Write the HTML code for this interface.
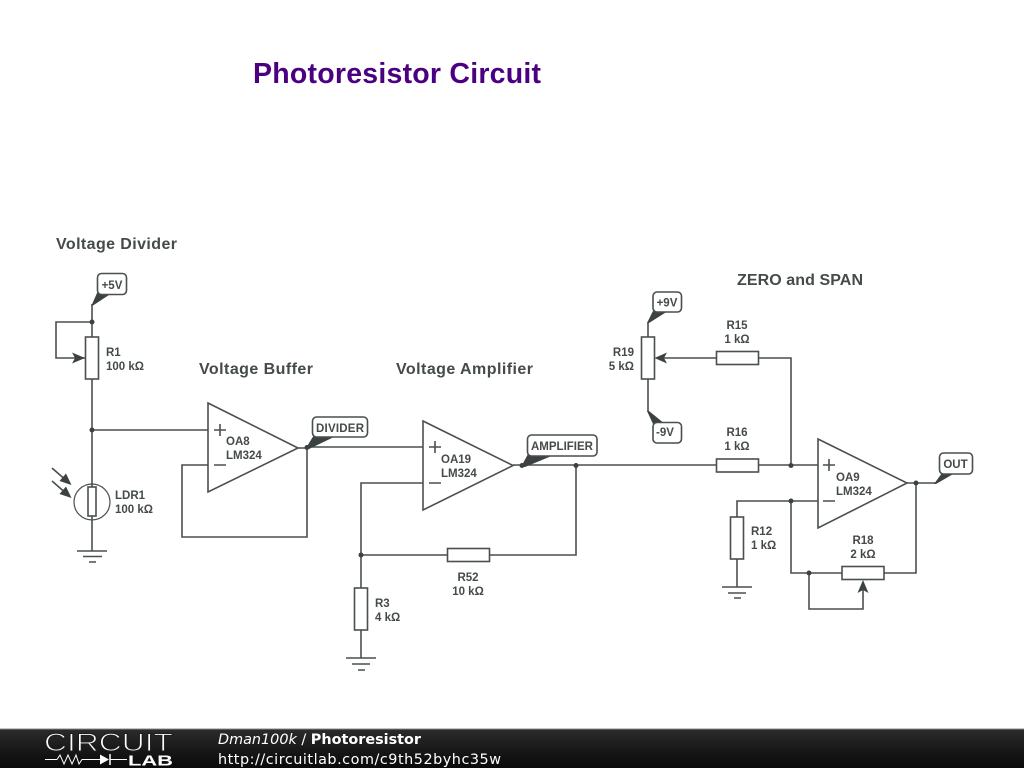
<!DOCTYPE html>
<html><head><meta charset="utf-8"><style>
html,body{margin:0;padding:0;background:#fff}
svg{display:block}
.w{fill:none;stroke:#4a4f4f;stroke-width:1.6}
.b{fill:#fff;stroke:#4a4f4f;stroke-width:1.6}
.t{font:bold 11.5px "Liberation Sans",sans-serif;fill:#454a4a}
.h{font:bold 16px "Liberation Sans",sans-serif;fill:#454a4a}
.l{fill:#fff;stroke:#4a4f4f;stroke-width:1.6}
.f{fill:#3c4242}
.s{fill:#fff;font-family:"DejaVu Sans",sans-serif;font-size:14.4px}
</style></head><body>
<svg width="1024" height="768" viewBox="0 0 1024 768" xmlns="http://www.w3.org/2000/svg">
<rect width="1024" height="768" fill="#fff"/>
<text x="253" y="83" style="font:bold 28.500px 'Liberation Sans',sans-serif;fill:#4b0082" textLength="288">Photoresistor Circuit</text>
<text class="h" x="56" y="249" textLength="121">Voltage Divider</text>
<text class="h" x="199" y="374" textLength="114">Voltage Buffer</text>
<text class="h" x="396" y="374" textLength="137">Voltage Amplifier</text>
<text class="h" x="737" y="285" textLength="126">ZERO and SPAN</text>

<!-- wires -->
<path class="w" d="M92 304V337M92 322H56V358H85M92 379V487M92 516V551M92 430H208"/>
<path class="w" d="M298 448H307M208 465H182V537H307V447M307 447H423"/>
<path class="w" d="M423 483H361V588M361 555H448M490 555H576V465M513 465H716M758 465H818M361 630V658"/>
<path class="w" d="M791 465V358H758M716 358H660M648 322V337M648 379V412"/>
<path class="w" d="M818 501H737V517M737 558V587M791 501V573H842M884 573H916V483M907 483H935M809 573V609H863V585"/>

<!-- resistors -->
<rect class="b" x="85.500" y="337" width="13" height="42"/>
<rect class="b" x="354.500" y="588" width="13" height="42"/>
<rect class="b" x="447.500" y="548.500" width="42" height="13"/>
<rect class="b" x="716.500" y="351.500" width="42" height="13"/>
<rect class="b" x="716.500" y="459" width="42" height="13"/>
<rect class="b" x="641.500" y="337" width="13" height="42"/>
<rect class="b" x="730.500" y="517" width="13" height="42"/>
<rect class="b" x="842" y="566.500" width="42" height="13"/>

<!-- pot arrows -->
<path class="f" d="M85 358L72 352.500L75 358L72 363.500Z"/>
<path class="f" d="M654.500 358L667 352.500L664 358L667 363.500Z"/>
<path class="f" d="M863 580L857.500 593L863 590L868.500 593Z"/>

<!-- LDR -->
<circle cx="92" cy="502" r="18" fill="none" stroke="#4a4f4f" stroke-width="1.200"/>
<rect class="b" x="88" y="487" width="8" height="29"/>
<path class="w" d="M52 468L68 482M52 481L68 495"/>
<path class="f" d="M71.500 485L59.500 481L66 473.500ZM71.500 498L59.500 494L66 486.500Z"/>

<!-- grounds -->
<path class="w" d="M77 551H107M83 556.500H102M89 562H96"/>
<path class="w" d="M346 658H376M352 664H370M358 670H365"/>
<path class="w" d="M722 587H752M728 593H746M734 598H741"/>

<!-- opamps -->
<path class="b" d="M208 403L298 448L208 492Z"/>
<path class="w" d="M214 430H226M220 424V436M214 465H226"/>
<path class="b" d="M423 421L513 465.500L423 510Z"/>
<path class="w" d="M429 447H441M435 441V453M429 483H441"/>
<path class="b" d="M818 439L907 483L818 528Z"/>
<path class="w" d="M823 465H835M829 459V471M823 501H835"/>
<text class="t" x="226" y="445">OA8</text><text class="t" x="226" y="459">LM324</text>
<text class="t" x="441" y="463">OA19</text><text class="t" x="441" y="477">LM324</text>
<text class="t" x="836" y="481">OA9</text><text class="t" x="836" y="495">LM324</text>

<!-- net label tails -->
<path class="f" d="M91.500 305.500L97 293L112 293L93 305.500Z"/>
<path class="f" d="M306 448L314 435L336 436L309 449Z"/>
<path class="f" d="M521 467L528 454L554 455L525 467Z"/>
<path class="f" d="M647 323L653 311L668 311L649 323Z"/>
<path class="f" d="M647 411L653 424L665 424L649 411Z"/>
<path class="f" d="M934 484L942 473L955 473L936 484Z"/>

<!-- net label boxes -->
<rect class="l" x="97.500" y="273.500" width="29" height="21" rx="4"/>
<text class="t" x="112" y="289" text-anchor="middle">+5V</text>
<rect class="l" x="312.500" y="417" width="55" height="20" rx="4"/>
<text class="t" x="340" y="432" text-anchor="middle" textLength="48">DIVIDER</text>
<rect class="l" x="527.500" y="435" width="69.500" height="21" rx="4"/>
<text class="t" x="562" y="450" text-anchor="middle">AMPLIFIER</text>
<rect class="l" x="653" y="292" width="28.500" height="20" rx="4"/>
<text class="t" x="667" y="306.500" text-anchor="middle">+9V</text>
<rect class="l" x="653" y="422.500" width="28.500" height="20.500" rx="4"/>
<text class="t" x="665" y="436" text-anchor="middle">-9V</text>
<rect class="l" x="939.500" y="453" width="33" height="21" rx="4"/>
<text class="t" x="955.500" y="468" text-anchor="middle">OUT</text>

<!-- junctions -->
<g class="f">
<circle cx="92" cy="322" r="2.500"/><circle cx="92" cy="430" r="2.500"/>
<circle cx="307" cy="447.500" r="2.500"/><circle cx="522" cy="465.500" r="2.500"/>
<circle cx="576" cy="465.500" r="2.500"/><circle cx="361" cy="555" r="2.500"/>
<circle cx="791" cy="465.500" r="2.500"/><circle cx="791" cy="501" r="2.500"/>
<circle cx="809" cy="573" r="2.500"/><circle cx="916" cy="483" r="2.500"/>
</g>

<!-- component labels -->
<text class="t" x="106" y="356">R1</text><text class="t" x="106" y="370">100 kΩ</text>
<text class="t" x="115" y="499">LDR1</text><text class="t" x="115" y="513">100 kΩ</text>
<text class="t" x="375" y="607">R3</text><text class="t" x="375" y="621">4 kΩ</text>
<text class="t" x="468" y="581" text-anchor="middle">R52</text><text class="t" x="468" y="595" text-anchor="middle">10 kΩ</text>
<text class="t" x="737" y="329" text-anchor="middle">R15</text><text class="t" x="737" y="343" text-anchor="middle">1 kΩ</text>
<text class="t" x="737" y="436" text-anchor="middle">R16</text><text class="t" x="737" y="450" text-anchor="middle">1 kΩ</text>
<text class="t" x="634" y="356" text-anchor="end">R19</text><text class="t" x="634" y="370" text-anchor="end">5 kΩ</text>
<text class="t" x="751" y="535">R12</text><text class="t" x="751" y="549">1 kΩ</text>
<text class="t" x="863" y="544" text-anchor="middle">R18</text><text class="t" x="863" y="558" text-anchor="middle">2 kΩ</text>

<!-- footer -->
<defs><linearGradient id="g" x1="0" y1="0" x2="0" y2="1"><stop offset="0" stop-color="#2c2c2c"/><stop offset=".5" stop-color="#191919"/><stop offset="1" stop-color="#0a0a0a"/></linearGradient></defs>
<rect x="0" y="729" width="1024" height="39" fill="url(#g)"/>
<rect x="0" y="728.500" width="1024" height="1" fill="#888"/>
<text x="44" y="751" textLength="129" lengthAdjust="spacingAndGlyphs" style="font:25px 'Liberation Sans',sans-serif;fill:#fff;stroke:#1e1e1e;stroke-width:1">CIRCUIT</text>
<path d="M45 759.500H57L60 755L64 764L68 755L72 764L76 755L79 764L82 759.500H100M110 759.500H127" fill="none" stroke="#fff" stroke-width="1"/>
<path d="M100 754.500L109 759.500L100 764.500Z" fill="#fff"/><path d="M110 754V765" stroke="#fff" stroke-width="1.500"/>
<text x="128" y="765.500" textLength="45" lengthAdjust="spacingAndGlyphs" style="font:bold 15px 'Liberation Sans',sans-serif;fill:#fff">LAB</text>
<text class="s" x="218" y="744" textLength="203"><tspan font-style="italic">Dman100k</tspan> / <tspan font-weight="bold">Photoresistor</tspan></text>
<text class="s" x="218" y="764" textLength="283">http://circuitlab.com/c9th52byhc35w</text>
</svg>
</body></html>
